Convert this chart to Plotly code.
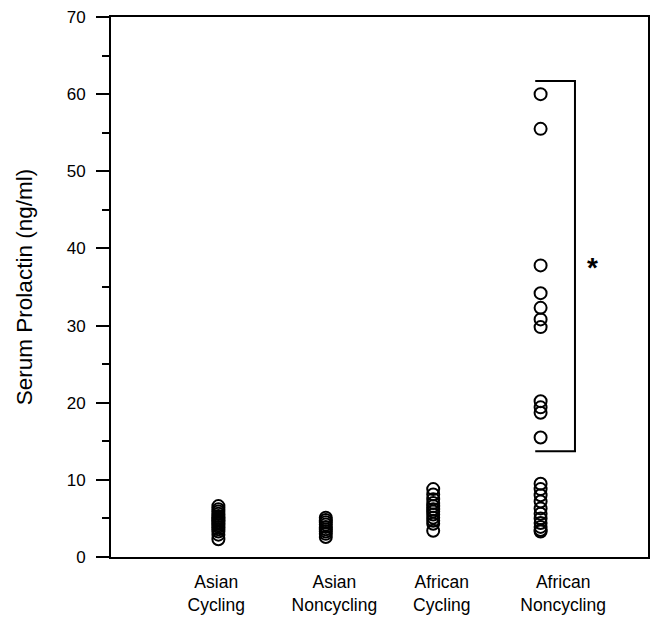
import plotly.graph_objects as go

categories = ["Asian<br>Cycling", "Asian<br>Noncycling", "African<br>Cycling", "African<br>Noncycling"]
group_x = [1, 2, 3, 4]
label_x = [0.98, 2.08, 3.08, 4.21]

asian_cycling = [2.3, 2.9, 3.3, 3.6, 3.9, 4.1, 4.3, 4.5, 4.7, 4.9, 5.1, 5.3, 5.6, 5.9, 6.2, 6.6]
asian_noncycling = [2.6, 3.0, 3.3, 3.6, 3.9, 4.2, 4.5, 4.8, 5.1]
african_cycling = [3.4, 4.3, 4.7, 5.1, 5.5, 5.9, 6.2, 6.6, 7.0, 7.5, 8.1, 8.8]
african_noncycling = [60.0, 55.5, 37.8, 34.2, 32.3, 30.8, 29.8, 20.2, 19.4, 18.7, 15.5,
                      9.5, 8.8, 8.0, 7.2, 6.3, 5.6, 5.0, 4.4, 3.9, 3.5, 3.3]

series = [asian_cycling, asian_noncycling, african_cycling, african_noncycling]

bracket_x = [3.95, 4.32]
bracket_y = [13.7, 61.7]
star_x = 4.48
star_y = 37.5

fig = go.Figure()
for gx, vals in zip(group_x, series):
    fig.add_trace(go.Scatter(
        x=[gx] * len(vals), y=vals, mode="markers",
        marker=dict(symbol="circle-open", size=12, color="black", line=dict(width=2, color="black")),
        showlegend=False, hoverinfo="y"))

fig.add_trace(go.Scatter(
    x=[bracket_x[0], bracket_x[1], bracket_x[1], bracket_x[0]],
    y=[bracket_y[1], bracket_y[1], bracket_y[0], bracket_y[0]],
    mode="lines", line=dict(color="black", width=2), showlegend=False, hoverinfo="skip"))

fig.add_annotation(x=star_x, y=star_y, text="<b>*</b>", showarrow=False,
                   font=dict(size=28, color="black", family="Liberation Sans, Arial"))

fig.update_layout(
    width=652, height=618,
    margin=dict(l=111, r=2, t=17, b=61),
    paper_bgcolor="white", plot_bgcolor="white",
    font=dict(family="Liberation Sans, Arial", color="black"),
)
fig.update_xaxes(
    range=[0, 5], tickmode="array", tickvals=label_x, ticktext=categories,
    ticks="", showline=True, linecolor="black", linewidth=2, mirror=True,
    showgrid=False, zeroline=False, tickfont=dict(size=17.5), ticklabelstandoff=8)
fig.update_yaxes(
    range=[0, 70], dtick=10, ticks="outside", ticklen=13, tickwidth=1.5, tickcolor="black",
    minor=dict(dtick=5, ticks="outside", ticklen=7, tickwidth=1.5, tickcolor="black"),
    showline=True, linecolor="black", linewidth=2, mirror=True,
    showgrid=False, zeroline=False, tickfont=dict(size=17), ticklabelstandoff=7,
    title=dict(text="Serum Prolactin (ng/ml)", font=dict(size=22.5), standoff=28))

fig.write_html("out.html")
